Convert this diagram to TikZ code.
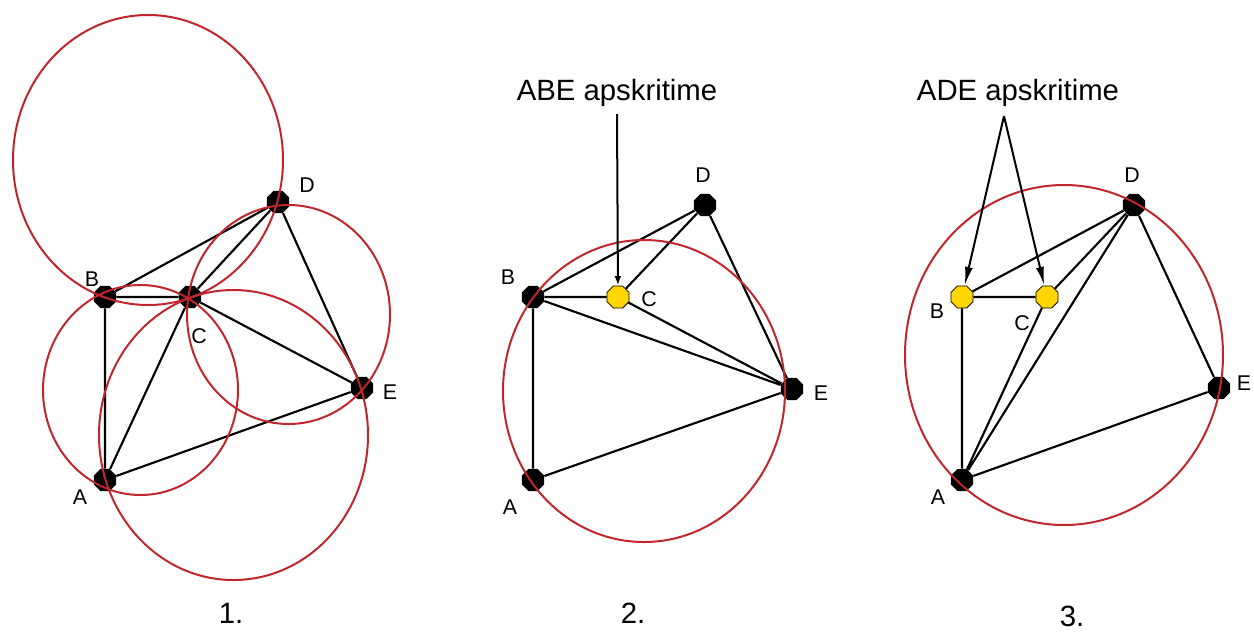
\documentclass[tikz,border=0pt]{standalone}
\usepackage{fontspec}
\setmainfont{Liberation Sans}
\usetikzlibrary{shapes.geometric,arrows.meta}
\definecolor{circred}{RGB}{192,38,44}
\definecolor{ptyellow}{RGB}{255,214,0}
\tikzset{
  vtx/.style={regular polygon, regular polygon sides=8, fill=black, inner sep=0pt, minimum size=18pt},
  vtxy/.style={vtx, fill=ptyellow, draw=black, line width=0.6pt},
  lbl/.style={inner sep=0pt, font=\fontsize{16}{18}\selectfont},
  hdr/.style={inner sep=0pt, font=\fontsize{22}{26}\selectfont},
  seg/.style={line width=1.6pt},
  circ/.style={draw=circred, line width=1.5pt},
  ptr/.style={line width=1.5pt, -{Latex[length=14pt,width=6pt]}},
}

\begin{document}
\begin{tikzpicture}[x=0.75pt,y=0.75pt,yscale=-1,xscale=1]
\useasboundingbox (0,0) rectangle (1254,633);

%Panel 1: points
\node[vtx] (A1) at (105,480) {};
\node[vtx] (B1) at (105,297) {};
\node[vtx] (C1) at (190,297) {};
\node[vtx] (D1) at (278,202) {};
\node[vtx] (E1) at (362,388) {};
%Panel 1: triangulation
\draw[seg] (A1) -- (B1) (A1) -- (C1) (A1) -- (E1) (B1) -- (C1);
\draw[seg] (B1) -- (D1) (C1) -- (D1) (C1) -- (E1) (D1) -- (E1);
%Panel 1: circumcircles
\draw[circ] (148,160) ellipse [x radius=135, y radius=145];
\draw[circ] (140.5,390) ellipse [x radius=97.5, y radius=105];
\draw[circ] (288.5,314.5) ellipse [x radius=101.5, y radius=109.5];
\draw[circ] (233.5,435) ellipse [x radius=134.5, y radius=145];
% Text Node
\node[lbl] (tA1) at (80,497) {A};
\node[lbl] (tB1) at (92,279) {B};
\node[lbl] (tC1) at (199,336) {C};
\node[lbl] (tD1) at (307,185) {D};
\node[lbl] (tE1) at (390,392) {E};
\node[hdr] (n1) at (231,613) {1.};

%Panel 2: points
\node[vtx] (A2) at (533,480) {};
\node[vtx] (B2) at (533,297) {};
\node[vtxy] (C2) at (618,297) {};
\node[vtx] (D2) at (705,205) {};
\node[vtx] (E2) at (792,389) {};
%Panel 2: triangulation
\draw[seg] (A2) -- (B2) (A2) -- (E2) (B2) -- (C2) (B2) -- (D2);
\draw[seg] (B2) -- (E2) (C2) -- (D2) (C2) -- (E2) (D2) -- (E2);
%Panel 2: circumcircle of ABE
\draw[circ] (644,391) ellipse [x radius=141, y radius=151];
% Text Node
\node[lbl] (tA2) at (510,507) {A};
\node[lbl] (tB2) at (508,277) {B};
\node[lbl] (tC2) at (649,299) {C};
\node[lbl] (tD2) at (703,175) {D};
\node[lbl] (tE2) at (821,393) {E};
\node[hdr] (h2) at (617,93) {ABE apskritime};
\node[hdr] (n2) at (633,613) {2.};
\draw[line width=1.5pt, -{Latex[length=7pt,width=5pt]}] (617,114) -- (C2);

%Panel 3: points
\node[vtx] (A3) at (962,480) {};
\node[vtxy] (B3) at (962,297) {};
\node[vtxy] (C3) at (1047,297) {};
\node[vtx] (D3) at (1134,205) {};
\node[vtx] (E3) at (1219,388) {};
%Panel 3: triangulation
\draw[seg] (A3) -- (B3) (A3) -- (C3) (A3) -- (D3) (A3) -- (E3);
\draw[seg] (B3) -- (C3) (B3) -- (D3) (C3) -- (D3) (D3) -- (E3);
%Panel 3: circumcircle of ADE
\draw[circ] (1064,355) ellipse [x radius=159, y radius=170];
% Text Node
\node[lbl] (tA3) at (938,497) {A};
\node[lbl] (tB3) at (937,311) {B};
\node[lbl] (tC3) at (1022,323) {C};
\node[lbl] (tD3) at (1132,175) {D};
\node[lbl] (tE3) at (1244,383) {E};
\node[hdr] (h3) at (1018,93) {ADE apskritime};
\node[hdr] (n3) at (1072,616) {3.};
\coordinate (s3) at (1004,116);
\draw[ptr] (s3) -- (B3);
\draw[ptr] (s3) -- (C3);
\end{tikzpicture}
\end{document}
